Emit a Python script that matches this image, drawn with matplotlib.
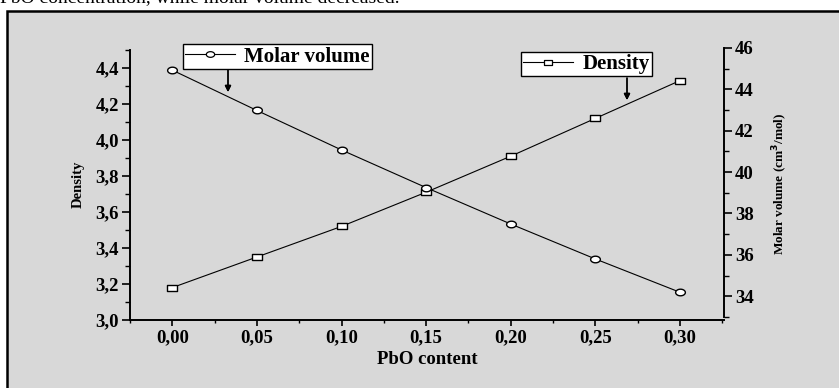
import numpy as np
import matplotlib.pyplot as plt
from matplotlib.path import Path
from matplotlib.patches import Rectangle
from matplotlib.lines import Line2D
from matplotlib.ticker import MultipleLocator, FuncFormatter

# data
pbo = [0.00, 0.05, 0.10, 0.15, 0.20, 0.25, 0.30]
density = [3.18, 3.35, 3.52, 3.71, 3.91, 4.12, 4.33]
molar_volume = [44.93, 42.98, 41.07, 39.25, 37.49, 35.80, 34.19]

plt.rcParams['font.family'] = ['Liberation Serif', 'DejaVu Serif']
plt.rcParams['font.weight'] = 'bold'

# squashed markers like in the scanned figure
t = np.linspace(0, 2 * np.pi, 40)
ellipse = Path(np.column_stack([np.cos(t), 0.68 * np.sin(t)]), closed=True)
rect = Path([(-1, -0.6), (1, -0.6), (1, 0.6), (-1, 0.6), (-1, -0.6)], closed=True)

W, H = 839, 388
fig = plt.figure(figsize=(W / 100, H / 100), dpi=100)
fig.patch.set_facecolor('white')

# grey framed panel
fig.patches.append(Rectangle((7 / W, -0.05), 1.1, 1 - 11 / H + 0.05, transform=fig.transFigure,
                             facecolor='#d8d8d8', edgecolor='black', linewidth=1.8, zorder=-10))
fig.text(0.0, 1 - 2 / H, 'PbO concentration, while molar volume decreased.',
         fontsize=14, fontweight='normal', va='baseline', ha='left')

ax = fig.add_axes([130 / W, 68 / H, 594 / W, 272 / H])
ax.patch.set_visible(False)
ax2 = ax.twinx()
ax2.patch.set_visible(False)

ax.plot(pbo, density, color='black', lw=0.8, marker=rect, ms=7,
        mfc='white', mec='black', mew=1.0)
ax2.plot(pbo, molar_volume, color='black', lw=0.8, marker=ellipse, ms=7,
         mfc='white', mec='black', mew=1.0)

ax.set_xlim(-0.025, 0.326)
ax.set_ylim(3.0, 4.511)
ax2.set_ylim(32.85, 46.0)

comma = lambda fmt: FuncFormatter(lambda v, p: (fmt % v).replace('.', ','))
ax.xaxis.set_major_locator(MultipleLocator(0.05))
ax.xaxis.set_minor_locator(MultipleLocator(0.025))
ax.xaxis.set_major_formatter(comma('%.2f'))
ax.yaxis.set_major_locator(MultipleLocator(0.2))
ax.yaxis.set_minor_locator(MultipleLocator(0.1))
ax.yaxis.set_major_formatter(comma('%.1f'))
ax2.yaxis.set_major_locator(MultipleLocator(2))
ax2.yaxis.set_minor_locator(MultipleLocator(1))

for a in (ax, ax2):
    for s in a.spines.values():
        s.set_visible(False)
ax.spines['left'].set_visible(True)
ax.spines['bottom'].set_visible(True)
ax.spines['left'].set_bounds(3.0, 4.5)
ax2.spines['right'].set_visible(True)
ax2.spines['right'].set_bounds(33.0, 46.0)
for s in (ax.spines['left'], ax.spines['bottom'], ax2.spines['right']):
    s.set_linewidth(1.4)

ax.tick_params(axis='y', which='major', direction='out', length=6, width=1.2, pad=2, labelsize=13.5)
ax.tick_params(axis='y', which='minor', direction='out', length=3.5, width=1.0)
ax.tick_params(axis='x', which='major', direction='out', length=4, width=1.2, pad=3, labelsize=13.5)
ax.tick_params(axis='x', which='minor', direction='out', length=2.5, width=1.0)
ax2.tick_params(axis='y', which='major', direction='out', length=6, width=1.2, pad=2, labelsize=13.5)
ax2.tick_params(axis='y', which='minor', direction='out', length=3.5, width=1.0)

ax.set_xlabel('PbO content', fontsize=13.5, fontweight='bold', labelpad=3)
ax.set_ylabel('Density', fontsize=10.5, fontweight='bold', labelpad=8)
ax2.set_ylabel('Molar volume (cm$^3$/mol)', fontsize=9.5, fontweight='bold', labelpad=12)

# boxed legend labels with arrows
h_mv = Line2D([], [], color='black', lw=0.8, marker=ellipse, ms=6, mfc='white', mec='black', mew=0.9)
h_d = Line2D([], [], color='black', lw=0.8, marker=rect, ms=6, mfc='white', mec='black', mew=0.9)
leg_kw = dict(loc='center left', bbox_transform=fig.transFigure, fancybox=False, framealpha=1,
              edgecolor='black', borderpad=0.1, borderaxespad=0, handlelength=2.4,
              handletextpad=0.45, numpoints=1, prop={'weight': 'bold', 'size': 15})
leg1 = ax2.legend([h_mv], ['Molar volume'], bbox_to_anchor=(183 / W, 1 - 56.5 / H), **leg_kw)
leg1.get_frame().set_linewidth(1.0)
ax2.add_artist(leg1)
leg2 = ax2.legend([h_d], ['Density'], bbox_to_anchor=(521 / W, 1 - 64 / H), **leg_kw)
leg2.get_frame().set_linewidth(1.0)

arrow = dict(arrowstyle='-|>', color='black', lw=1.0, mutation_scale=9, shrinkA=0, shrinkB=0)
fig.add_artist(plt.annotate('', xy=(228 / W, 1 - 92 / H), xytext=(228 / W, 1 - 70 / H),
                            xycoords='figure fraction', arrowprops=arrow))
fig.add_artist(plt.annotate('', xy=(627 / W, 1 - 100 / H), xytext=(627 / W, 1 - 78 / H),
                            xycoords='figure fraction', arrowprops=arrow))

fig.savefig('out.png', dpi=100)
